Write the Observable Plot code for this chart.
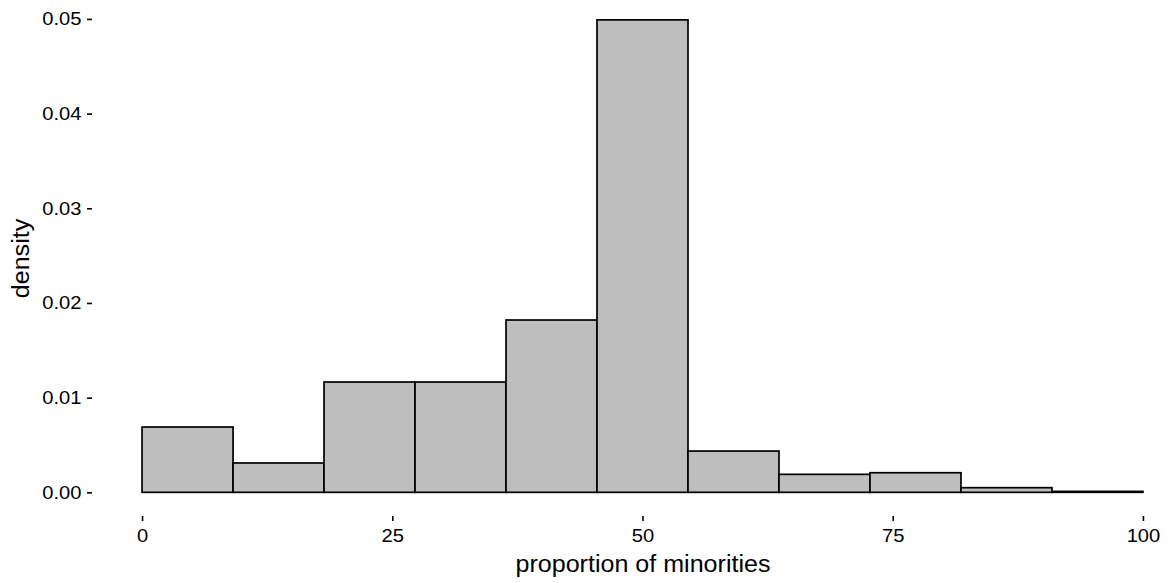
<!DOCTYPE html>
<html>
<head>
<meta charset="utf-8">
<script src="https://cdn.jsdelivr.net/npm/d3@7"></script>
<script src="https://cdn.jsdelivr.net/npm/@observablehq/plot@0.6"></script>
<style>
  html, body { margin: 0; padding: 0; background: #fff; overflow: hidden; }
  svg { overflow: hidden; }
</style>
</head>
<body>
<div id="chart"></div>
<script>
// Histogram: 11 equal bins over 0..100
const binStart = [0, 100/11, 200/11, 300/11, 400/11, 500/11, 600/11, 700/11, 800/11, 900/11, 1000/11];
const binEnd   = [100/11, 200/11, 300/11, 400/11, 500/11, 600/11, 700/11, 800/11, 900/11, 1000/11, 100];
const density  = [0.0069, 0.0031, 0.01165, 0.01165, 0.0182, 0.0499, 0.00436, 0.0019, 0.00207, 0.00049, 0.0001];
const xTicks = [0, 25, 50, 75, 100];
const yTicks = [0, 0.01, 0.02, 0.03, 0.04, 0.05];
const xLabel = "proportion of minorities";
const yLabel = "density";

const bins = binStart.map((s, i) => ({x1: s, x2: binEnd[i], y: density[i]}));

const font = "'Liberation Sans', Arial, Helvetica, sans-serif";

const chart = Plot.plot({
  width: 1170,
  height: 583,
  marginLeft: 92,
  marginRight: -23,
  marginTop: 0,
  marginBottom: 67,
  style: {fontFamily: font, background: "#fff", color: "#000"},
  x: {domain: [-5, 105]},
  y: {domain: [-0.0025, 0.052]},
  marks: [
    Plot.rectY(bins, {x1: "x1", x2: "x2", y1: 0, y2: "y", fill: "#BEBEBE", stroke: "#000", strokeWidth: 1.7}),
    Plot.axisX({ticks: xTicks, tickFormat: d => String(d), tickSize: 5, tickPadding: 7, fontSize: 18.5, fill: "#000", stroke: "#000", strokeWidth: 1.6, label: null}),
    Plot.axisX({ticks: [], label: xLabel, labelAnchor: "center", labelArrow: "none", labelOffset: 55, fontSize: 23, fill: "#000"}),
    Plot.axisY({ticks: yTicks, tickFormat: d3.format(".2f"), tickSize: 5, tickPadding: 6, fontSize: 18.5, fill: "#000", stroke: "#000", strokeWidth: 1.6, label: null}),
    Plot.axisY({ticks: [], label: yLabel, labelAnchor: "center", labelArrow: "none", labelOffset: 80, fontSize: 23, fill: "#000"})
  ]
});

document.getElementById("chart").appendChild(chart);

// Slight horizontal glyph stretch to match the reference text proportions
chart.querySelectorAll("text").forEach(t => {
  const len = t.getComputedTextLength();
  if (len > 0) {
    t.setAttribute("textLength", (len * 1.09).toFixed(2));
    t.setAttribute("lengthAdjust", "spacingAndGlyphs");
  }
});
</script>
</body>
</html>
